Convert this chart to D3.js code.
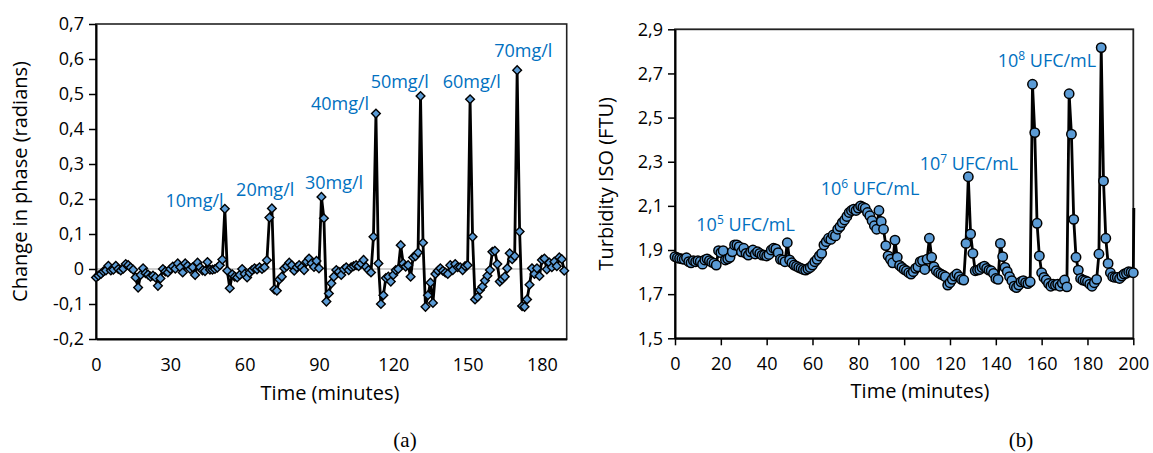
<!DOCTYPE html>
<html>
<head>
<meta charset="utf-8">
<script src="https://cdnjs.cloudflare.com/ajax/libs/d3/7.8.5/d3.min.js"></script>
<style>
  body { margin: 0; background: #fff; }
  text { font-family: "Open Sans", sans-serif; fill: #000; }
</style>
</head>
<body>
<script>
// (a) change in phase, one sample per minute starting at 0
var phaseValues = [
  -0.024, -0.019, -0.014, -0.007, -0.004, 0.009, -0.004, -0.002, 0.009, 0.000,
  -0.004, 0.001, 0.014, 0.011, 0.004, -0.002, -0.024, -0.053, -0.017, 0.002,
  -0.012, -0.016, -0.022, -0.019, -0.024, -0.048, -0.027, 0.000, -0.007, -0.010,
  0.000, 0.007, 0.001, 0.016, 0.005, -0.010, 0.016, 0.009, 0.000, 0.005,
  -0.017, 0.018, 0.005, -0.004, -0.006, 0.020, -0.002, -0.002, 0.000, 0.004,
  0.011, 0.027, 0.172, -0.005, -0.055, -0.015, -0.022, -0.024, -0.017, 0.000,
  -0.014, -0.024, -0.011, -0.003, 0.002, -0.001, 0.005, 0.000, 0.005, 0.025,
  0.147, 0.173, -0.058, -0.062, -0.030, -0.022, 0.002, 0.008, 0.018, 0.011,
  -0.005, 0.005, 0.011, 0.005, -0.003, 0.021, 0.030, 0.016, 0.006, 0.023,
  0.002, 0.206, 0.145, -0.093, -0.070, -0.041, -0.022, -0.003, -0.008, -0.017,
  -0.001, 0.005, -0.003, 0.005, 0.008, 0.011, 0.008, 0.016, 0.026, 0.006,
  -0.003, -0.010, 0.092, 0.444, 0.016, -0.100, -0.075, -0.026, -0.022, -0.036,
  -0.017, -0.003, 0.000, 0.068, 0.016, 0.007, 0.011, -0.022, 0.033, 0.037,
  0.047, 0.494, 0.075, -0.108, -0.075, -0.039, -0.097, -0.014, -0.005, 0.002,
  -0.005, -0.010, -0.014, 0.011, -0.003, 0.014, 0.005, 0.005, -0.003, 0.008,
  0.011, 0.485, 0.092, -0.087, -0.080, -0.060, -0.050, -0.033, -0.019, -0.003,
  0.049, 0.052, 0.014, -0.036, -0.029, -0.022, 0.002, 0.045, 0.028, 0.037,
  0.568, 0.107, -0.106, -0.108, -0.087, -0.045, 0.002, -0.014, 0.002, -0.020,
  0.026, 0.030, -0.001, 0.018, 0.005, 0.021, 0.008, 0.033, 0.028, -0.005
];

// (b) turbidity, one sample per minute from 0 to 200
var turbidityValues = [
  1.870, 1.865, 1.862, 1.860, 1.858, 1.865, 1.847, 1.842, 1.852, 1.847,
  1.852, 1.848, 1.836, 1.855, 1.860, 1.852, 1.845, 1.840, 1.832, 1.897,
  1.888, 1.897, 1.855, 1.860, 1.867, 1.892, 1.923, 1.923, 1.915, 1.892,
  1.908, 1.885, 1.877, 1.892, 1.900, 1.882, 1.892, 1.885, 1.877, 1.877,
  1.873, 1.880, 1.900, 1.908, 1.905, 1.888, 1.858, 1.855, 1.847, 1.933,
  1.855, 1.842, 1.832, 1.827, 1.821, 1.817, 1.812, 1.809, 1.815, 1.821,
  1.832, 1.847, 1.858, 1.873, 1.885, 1.923, 1.938, 1.953, 1.948, 1.968,
  1.964, 1.994, 2.006, 2.024, 2.036, 2.052, 2.070, 2.079, 2.085, 2.079,
  2.090, 2.100, 2.094, 2.089, 2.070, 2.055, 2.033, 2.010, 1.994, 2.079,
  2.029, 1.994, 1.920, 1.873, 1.858, 1.842, 1.945, 1.867, 1.830, 1.821,
  1.812, 1.806, 1.797, 1.791, 1.802, 1.817, 1.824, 1.847, 1.852, 1.812,
  1.858, 1.953, 1.867, 1.824, 1.806, 1.797, 1.791, 1.786, 1.779, 1.741,
  1.752, 1.767, 1.782, 1.791, 1.779, 1.767, 1.764, 1.930, 2.232, 1.973,
  1.885, 1.806, 1.809, 1.812, 1.821, 1.827, 1.817, 1.809, 1.806, 1.794,
  1.771, 1.767, 1.930, 1.870, 1.821, 1.802, 1.779, 1.761, 1.736, 1.730,
  1.741, 1.756, 1.761, 1.752, 1.748, 1.756, 2.651, 2.432, 2.021, 1.873,
  1.797, 1.776, 1.764, 1.748, 1.736, 1.745, 1.741, 1.745, 1.736, 1.750,
  1.764, 1.733, 2.608, 2.425, 2.039, 1.867, 1.809, 1.771, 1.764, 1.761,
  1.756, 1.745, 1.736, 1.752, 1.767, 1.882, 2.817, 2.213, 1.953, 1.839,
  1.797, 1.779, 1.776, 1.776, 1.771, 1.782, 1.791, 1.795, 1.802, 1.800,
  1.797
];
// the next sample sits just past the end of the axis (line only, no marker)
var turbidityNext = { t: 200.25, v: 2.09 };

// annotations, placed in data units (text centre, baseline)
var phaseLabels = [
  { text: "10mg/l", t: 39.8, v: 0.176 },
  { text: "20mg/l", t: 68.3, v: 0.209 },
  { text: "30mg/l", t: 96.1, v: 0.229 },
  { text: "40mg/l", t: 98.5, v: 0.454 },
  { text: "50mg/l", t: 122.6, v: 0.517 },
  { text: "60mg/l", t: 151.7, v: 0.517 },
  { text: "70mg/l", t: 172.5, v: 0.606 }
];
var turbidityLabels = [
  { base: "10", exp: "5", unit: " UFC/mL", t: 30.8, v: 1.986 },
  { base: "10", exp: "6", unit: " UFC/mL", t: 85.1, v: 2.149 },
  { base: "10", exp: "7", unit: " UFC/mL", t: 128.3, v: 2.263 },
  { base: "10", exp: "8", unit: " UFC/mL", t: 162.3, v: 2.729 }
];

// tick labels
var phaseTicks = [-0.2, -0.1, 0, 0.1, 0.2, 0.3, 0.4, 0.5, 0.6, 0.7];
var timeTicksA = [0, 30, 60, 90, 120, 150, 180];
var turbidityTicks = [1.5, 1.7, 1.9, 2.1, 2.3, 2.5, 2.7, 2.9];
var timeTicksB = [0, 20, 40, 60, 80, 100, 120, 140, 160, 180, 200];

var width = 1153,
    height = 453;

var markerFill = "#5B9BD5",
    labelBlue = "#0070C0";

// comma as decimal separator, plain hyphen for negatives
function comma(d, digits) {
  if (Math.abs(d) < 1e-9) return "0";
  return d3.format("." + digits + "f")(d).replace(".", ",").replace("\u2212", "-");
}

var svg = d3.select("body")
  .append("svg")
  .attr("width", width)
  .attr("height", height);

// ---------- chart (a) ----------
var xa = d3.scaleLinear().domain([0, 190]).range([96, 566.7]);
var ya = d3.scaleLinear().domain([-0.2, 0.7]).range([339, 24]);

var phase = phaseValues.map(function(v, i) { return { t: i, v: v }; });

var ga = svg.append("g");

// plot border
ga.append("rect")
  .attr("x", xa(0))
  .attr("y", ya(0.7))
  .attr("width", xa(190) - xa(0))
  .attr("height", ya(-0.2) - ya(0.7))
  .attr("fill", "none")
  .attr("stroke", "#222")
  .attr("stroke-width", 1.6);

// zero line
ga.append("line")
  .attr("x1", xa(0))
  .attr("x2", xa(190))
  .attr("y1", ya(0))
  .attr("y2", ya(0))
  .attr("stroke", "#bfbfbf")
  .attr("stroke-width", 1.5);

ga.append("g")
  .attr("class", "axis")
  .attr("transform", "translate(0," + ya(-0.2) + ")")
  .call(d3.axisBottom(xa).tickValues(timeTicksA).tickSize(0).tickPadding(19))
  .call(styleAxis);

ga.append("g")
  .attr("class", "axis")
  .attr("transform", "translate(" + xa(0) + ",0)")
  .call(d3.axisLeft(ya).tickValues(phaseTicks).tickSize(7).tickSizeOuter(0).tickPadding(5)
    .tickFormat(function(d) { return comma(d, 1); }))
  .call(styleAxis);

var lineA = d3.line()
  .x(function(d) { return xa(d.t); })
  .y(function(d) { return ya(d.v); });

ga.append("path")
  .datum(phase)
  .attr("d", lineA)
  .attr("fill", "none")
  .attr("stroke", "#000")
  .attr("stroke-width", 2.8);

ga.selectAll(".diamond")
  .data(phase)
  .enter().append("path")
  .attr("class", "diamond")
  .attr("d", d3.symbol().type(d3.symbolSquare).size(38))
  .attr("transform", function(d) { return "translate(" + xa(d.t) + "," + ya(d.v) + ") rotate(45)"; })
  .attr("fill", markerFill)
  .attr("stroke", "#000")
  .attr("stroke-width", 1.4);

ga.selectAll(".lab")
  .data(phaseLabels)
  .enter().append("text")
  .attr("class", "lab")
  .attr("x", function(d) { return xa(d.t); })
  .attr("y", function(d) { return ya(d.v); })
  .attr("text-anchor", "middle")
  .style("font-size", "18px")
  .style("fill", labelBlue)
  .text(function(d) { return d.text; });

ga.append("text")
  .attr("transform", "translate(27," + (ya(0.25)) + ") rotate(-90)")
  .attr("text-anchor", "middle")
  .style("font-size", "20px")
  .text("Change in phase (radians)");

ga.append("text")
  .attr("x", 330)
  .attr("y", 400)
  .attr("text-anchor", "middle")
  .style("font-size", "20px")
  .text("Time (minutes)");

// ---------- chart (b) ----------
var xb = d3.scaleLinear().domain([0, 200]).range([675, 1133.3]);
var yb = d3.scaleLinear().domain([1.5, 2.9]).range([338.3, 29.3]);

var turbidity = turbidityValues.map(function(v, i) { return { t: i, v: v }; });

var gb = svg.append("g");

gb.append("rect")
  .attr("x", xb(0))
  .attr("y", yb(2.9))
  .attr("width", xb(200) - xb(0))
  .attr("height", yb(1.5) - yb(2.9))
  .attr("fill", "none")
  .attr("stroke", "#222")
  .attr("stroke-width", 1.8);

gb.append("g")
  .attr("class", "axis")
  .attr("transform", "translate(0," + yb(1.5) + ")")
  .call(d3.axisBottom(xb).tickValues(timeTicksB).tickSize(7).tickSizeOuter(0).tickPadding(12))
  .call(styleAxis);

gb.append("g")
  .attr("class", "axis")
  .attr("transform", "translate(" + xb(0) + ",0)")
  .call(d3.axisLeft(yb).tickValues(turbidityTicks).tickSize(7).tickSizeOuter(0).tickPadding(5)
    .tickFormat(function(d) { return comma(d, 1); }))
  .call(styleAxis);

var lineB = d3.line()
  .x(function(d) { return xb(d.t); })
  .y(function(d) { return yb(d.v); });

gb.append("path")
  .datum(turbidity.concat([turbidityNext]))
  .attr("d", lineB)
  .attr("fill", "none")
  .attr("stroke", "#000")
  .attr("stroke-width", 2.8);

gb.selectAll(".dot")
  .data(turbidity)
  .enter().append("circle")
  .attr("class", "dot")
  .attr("cx", function(d) { return xb(d.t); })
  .attr("cy", function(d) { return yb(d.v); })
  .attr("r", 4.7)
  .attr("fill", markerFill)
  .attr("stroke", "#000")
  .attr("stroke-width", 1.5);

var tl = gb.selectAll(".lab")
  .data(turbidityLabels)
  .enter().append("text")
  .attr("class", "lab")
  .attr("x", function(d) { return xb(d.t); })
  .attr("y", function(d) { return yb(d.v); })
  .attr("text-anchor", "middle")
  .style("font-size", "18px")
  .style("fill", labelBlue);

tl.append("tspan").text(function(d) { return d.base; });
tl.append("tspan")
  .attr("dy", -7)
  .style("font-size", "12px")
  .text(function(d) { return d.exp; });
tl.append("tspan")
  .attr("dy", 7)
  .text(function(d) { return d.unit; });

gb.append("text")
  .attr("transform", "translate(613," + yb(2.2) + ") rotate(-90)")
  .attr("text-anchor", "middle")
  .style("font-size", "20px")
  .text("Turbidity ISO (FTU)");

gb.append("text")
  .attr("x", 920)
  .attr("y", 398)
  .attr("text-anchor", "middle")
  .style("font-size", "20px")
  .text("Time (minutes)");

// captions
svg.append("text")
  .attr("x", 405)
  .attr("y", 447)
  .attr("text-anchor", "middle")
  .style("font-family", "'Liberation Serif', serif")
  .style("font-size", "21px")
  .text("(a)");

svg.append("text")
  .attr("x", 1021)
  .attr("y", 447)
  .attr("text-anchor", "middle")
  .style("font-family", "'Liberation Serif', serif")
  .style("font-size", "21px")
  .text("(b)");

function styleAxis(g) {
  g.select(".domain")
    .attr("stroke", "#000")
    .attr("stroke-width", 2);
  g.selectAll(".tick line")
    .attr("stroke", "#000")
    .attr("stroke-width", 1.5);
  g.selectAll(".tick text")
    .attr("fill", "#000")
    .style("font-family", "'Open Sans', sans-serif")
    .style("font-size", "18px");
}
</script>
</body>
</html>
